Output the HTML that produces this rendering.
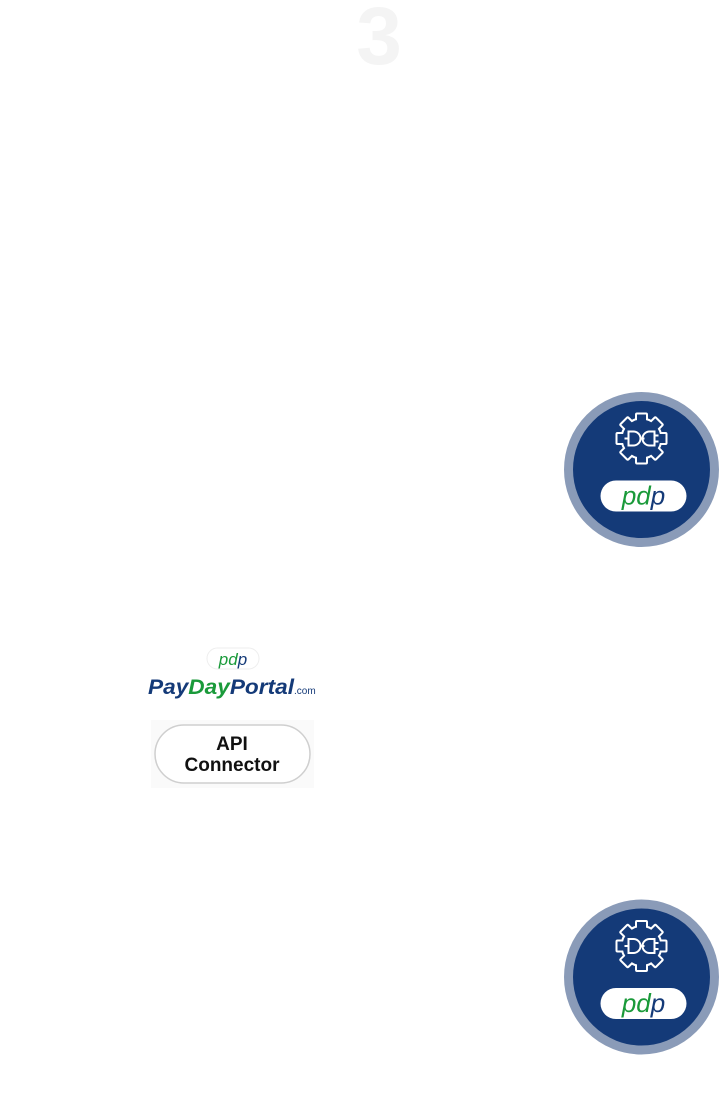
<!DOCTYPE html>
<html><head><style>
html,body{margin:0;padding:0;background:#fff;width:719px;height:1099px;overflow:hidden}
svg{display:block}
</style></head><body>
<svg width="719" height="1099" viewBox="0 0 719 1099" xmlns="http://www.w3.org/2000/svg">
<defs>
<g id="gearshape">
  <circle r="19"/>
  <rect x="-4.5" y="-24" width="9" height="10"/>
  <rect x="-4.5" y="-24" width="9" height="10" transform="rotate(45)"/>
  <rect x="-4.5" y="-24" width="9" height="10" transform="rotate(90)"/>
  <rect x="-4.5" y="-24" width="9" height="10" transform="rotate(135)"/>
  <rect x="-4.5" y="-24" width="9" height="10" transform="rotate(180)"/>
  <rect x="-4.5" y="-24" width="9" height="10" transform="rotate(225)"/>
  <rect x="-4.5" y="-24" width="9" height="10" transform="rotate(270)"/>
  <rect x="-4.5" y="-24" width="9" height="10" transform="rotate(315)"/>
</g>
<g id="badge">
  <circle cx="0" cy="0" r="73" fill="#143a78" stroke="#8a9bb8" stroke-width="9"/>
  <g transform="translate(0,-31)">
    <use href="#gearshape" fill="#fff" stroke="#fff" stroke-width="4" stroke-linejoin="round"/>
    <use href="#gearshape" fill="#143a78"/>
    <path d="M-13,-7 h5 a7,7 0 0 1 0,14 h-5 z" fill="none" stroke="#fff" stroke-width="2"/>
    <path d="M13,-7 h-5 a7,7 0 0 0 0,14 h5 z" fill="none" stroke="#fff" stroke-width="2"/>
    <path d="M-2,0 h5 M13,-3 h4 M13,3 h4 M-17,0 h4" stroke="#fff" stroke-width="2"/>
  </g>
  <rect x="-41" y="11" width="86" height="31" rx="15.5" fill="#fff"/>
  <text x="2" y="35" text-anchor="middle" font-family="Liberation Sans, sans-serif" font-style="italic" font-size="26" fill="#1a9a3a">pd<tspan fill="#143a78">p</tspan></text>
</g>
</defs>
<text x="379" y="64" text-anchor="middle" font-family="Liberation Sans, sans-serif" font-weight="bold" font-size="82" fill="#f4f4f4">3</text>
<use href="#badge" x="641.5" y="469.5"/>
<use href="#badge" x="641.5" y="977"/>
<rect x="207" y="648" width="52" height="21" rx="10.5" fill="#fff" stroke="#eee"/>
<text x="233" y="665" text-anchor="middle" font-family="Liberation Sans, sans-serif" font-style="italic" font-size="17" fill="#1a9a3a">pd<tspan fill="#143a78">p</tspan></text>
<text x="148" y="694" font-family="Liberation Sans, sans-serif" font-weight="bold" font-style="italic" font-size="21" fill="#143a78" textLength="146" lengthAdjust="spacingAndGlyphs">Pay<tspan fill="#1a9a3a">Day</tspan>Portal</text>
<text x="294" y="694" font-family="Liberation Sans, sans-serif" font-size="10" fill="#143a78">.com</text>
<rect x="151" y="720" width="163" height="68" fill="#fafafa"/>
<rect x="155" y="725" width="155" height="58" rx="29" fill="#fff" stroke="#cfcfcf" stroke-width="1.5"/>
<text x="232" y="750" text-anchor="middle" font-family="Liberation Sans, sans-serif" font-weight="bold" font-size="19" fill="#111">API</text>
<text x="232" y="771" text-anchor="middle" font-family="Liberation Sans, sans-serif" font-weight="bold" font-size="19" fill="#111">Connector</text>
</svg>
</body></html>
